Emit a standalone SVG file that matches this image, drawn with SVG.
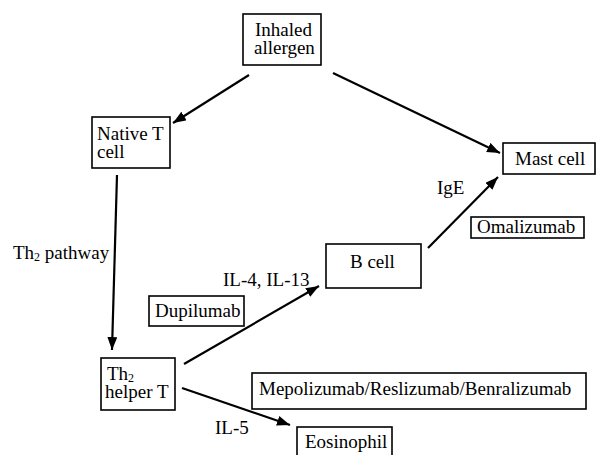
<svg xmlns="http://www.w3.org/2000/svg" width="596" height="455" viewBox="0 0 596 455">
<style>
.box{fill:#fff;stroke:#000;stroke-width:1.6}
.t{font-family:"Liberation Serif","Times New Roman",serif;font-size:19px;fill:#000}
.sub{font-size:12px}
.edge{stroke:#000;stroke-width:2.2;fill:none}
</style>
<defs>
<marker id="ah" markerUnits="userSpaceOnUse" markerWidth="14" markerHeight="12" refX="13" refY="5" orient="auto">
<path d="M0,0 L13,5 L0,10 Z" fill="#000"/>
</marker>
</defs>
<rect width="596" height="455" fill="#fff"/>
<g id="connectors">
<line class="edge" x1="249" y1="75" x2="173" y2="123" marker-end="url(#ah)"/>
<line class="edge" x1="333" y1="73" x2="500" y2="153" marker-end="url(#ah)"/>
<line class="edge" x1="117" y1="175" x2="112" y2="350" marker-end="url(#ah)"/>
<line class="edge" x1="184" y1="364" x2="319" y2="286" marker-end="url(#ah)"/>
<line class="edge" x1="182" y1="388" x2="290" y2="425" marker-end="url(#ah)"/>
<line class="edge" x1="428" y1="248" x2="498" y2="177" marker-end="url(#ah)"/>
</g>
<g id="inhaled-allergen">
<rect class="box" x="243" y="14" width="78" height="51"/>
<text class="t"><tspan x="255" y="36">Inhaled</tspan><tspan x="254" y="54">allergen</tspan></text>
</g>
<g id="native-t-cell">
<rect class="box" x="92" y="117" width="78" height="51"/>
<text class="t"><tspan x="97" y="140">Native T</tspan><tspan x="97" y="158">cell</tspan></text>
</g>
<g id="mast-cell">
<rect class="box" x="503" y="143" width="92" height="31"/>
<text class="t" x="515" y="165">Mast cell</text>
</g>
<g id="omalizumab">
<rect class="box" x="471" y="217" width="113" height="21"/>
<text class="t" x="477" y="233">Omalizumab</text>
</g>
<g id="b-cell">
<rect class="box" x="326" y="244" width="95" height="44"/>
<text class="t" x="350" y="268">B cell</text>
</g>
<g id="dupilumab">
<rect class="box" x="149" y="296" width="95" height="30"/>
<text class="t" x="155" y="317">Dupilumab</text>
</g>
<g id="th2-helper-t">
<rect class="box" x="101" y="358" width="74" height="52"/>
<text class="t"><tspan x="107" y="380">Th</tspan><tspan class="sub" dy="2">2</tspan><tspan x="105" y="398">helper T</tspan></text>
</g>
<g id="mepolizumab">
<rect class="box" x="252" y="373" width="334" height="36"/>
<text class="t" x="259" y="395">Mepolizumab/Reslizumab/Benralizumab</text>
</g>
<g id="eosinophil">
<rect class="box" x="297" y="427" width="95" height="40"/>
<text class="t" x="305" y="448">Eosinophil</text>
</g>
<g id="labels">
<text class="t" x="13" y="259">Th<tspan class="sub" dy="2">2</tspan><tspan dy="-2"> pathway</tspan></text>
<text class="t" x="437" y="194">IgE</text>
<text class="t" x="223" y="286">IL-4, IL-13</text>
<text class="t" x="215" y="434">IL-5</text>
</g>
</svg>
